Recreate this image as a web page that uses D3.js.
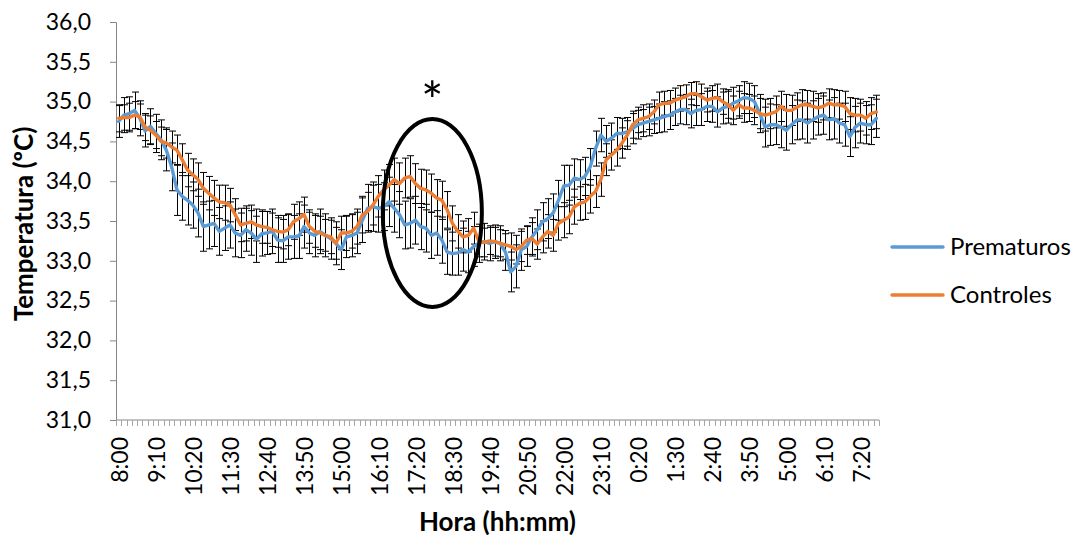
<!DOCTYPE html>
<html>
<head>
<meta charset="utf-8">
<script src="https://cdn.jsdelivr.net/npm/d3@7"></script>
<style>
  html, body { margin: 0; padding: 0; background: #fff; }
  svg { display: block; }
  text { font-family: Lato, "Open Sans", sans-serif; fill: #000; }
</style>
</head>
<body>
<svg id="chart" width="1084" height="538"></svg>
<script>
// ---------- DATA ----------
const tickLabels = ["8:00","9:10","10:20","11:30","12:40","13:50","15:00","16:10","17:20","18:30","19:40",
                    "20:50","22:00","23:10","0:20","1:30","2:40","3:50","5:00","6:10","7:20"];
const yTicks = [31.0,31.5,32.0,32.5,33.0,33.5,34.0,34.5,35.0,35.5,36.0];
const seriesNames = ["Prematuros","Controles"];

const prematuros = [
  34.75,34.83,34.85,34.89,34.79,34.63,34.69,34.60,34.52,34.39,
  34.18,33.89,33.81,33.76,33.70,33.60,33.43,33.45,33.47,33.37,
  33.41,33.45,33.35,33.32,33.39,33.35,33.27,33.34,33.35,33.37,
  33.26,33.25,33.30,33.30,33.31,33.43,33.35,33.32,33.37,33.32,
  33.28,33.22,33.14,33.30,33.32,33.35,33.51,33.66,33.68,33.66,
  33.68,33.74,33.66,33.58,33.45,33.47,33.51,33.43,33.41,33.32,
  33.35,33.26,33.11,33.09,33.10,33.14,33.11,33.18,33.22,33.24,
  33.22,33.24,33.22,33.11,32.86,32.93,33.14,33.18,33.30,33.39,
  33.49,33.53,33.60,33.76,33.94,33.95,34.04,34.02,34.06,34.18,
  34.41,34.58,34.50,34.54,34.60,34.60,34.62,34.66,34.71,34.73,
  34.75,34.77,34.79,34.81,34.83,34.87,34.90,34.90,34.85,34.89,
  34.90,34.94,34.94,34.87,34.92,34.94,34.98,35.01,35.05,35.04,
  35.00,34.85,34.68,34.71,34.71,34.68,34.64,34.71,34.77,34.77,
  34.73,34.77,34.81,34.83,34.77,34.79,34.73,34.71,34.56,34.68,
  34.73,34.71,34.71,34.79
];
const controles = [
  34.79,34.80,34.80,34.83,34.81,34.68,34.64,34.58,34.50,34.48,
  34.43,34.39,34.27,34.14,34.08,34.02,33.91,33.85,33.79,33.74,
  33.73,33.70,33.58,33.45,33.47,33.49,33.45,33.43,33.42,33.39,
  33.37,33.36,33.39,33.49,33.53,33.58,33.43,33.37,33.35,33.32,
  33.30,33.22,33.35,33.35,33.37,33.43,33.58,33.62,33.70,33.81,
  33.89,33.95,34.02,33.97,34.04,34.06,33.97,33.91,33.89,33.85,
  33.79,33.76,33.64,33.47,33.37,33.30,33.32,33.41,33.24,33.23,
  33.25,33.24,33.22,33.20,33.18,33.14,33.18,33.26,33.28,33.21,
  33.30,33.37,33.32,33.47,33.51,33.55,33.68,33.72,33.74,33.81,
  33.87,34.02,34.27,34.33,34.39,34.48,34.58,34.71,34.77,34.79,
  34.81,34.87,34.96,34.98,34.98,35.02,35.04,35.06,35.10,35.10,
  35.06,35.02,35.04,35.05,35.00,34.96,34.89,34.96,34.92,34.92,
  34.89,34.85,34.83,34.85,34.87,34.94,34.89,34.89,34.93,34.96,
  34.96,34.94,34.92,34.94,34.98,34.96,34.96,34.94,34.85,34.83,
  34.83,34.79,34.85,34.87
];
const prematurosErr = [
  0.20,0.22,0.21,0.23,0.22,0.20,0.22,0.24,0.25,0.26,
  0.30,0.32,0.30,0.31,0.29,0.30,0.31,0.30,0.29,0.30,
  0.28,0.29,0.30,0.28,0.27,0.28,0.29,0.28,0.27,0.28,
  0.28,0.27,0.28,0.27,0.28,0.27,0.26,0.27,0.28,0.27,
  0.26,0.27,0.25,0.26,0.27,0.26,0.28,0.30,0.31,0.30,
  0.30,0.31,0.30,0.29,0.30,0.31,0.30,0.29,0.30,0.29,
  0.28,0.29,0.28,0.27,0.28,0.27,0.26,0.25,0.24,0.23,
  0.22,0.21,0.22,0.23,0.25,0.27,0.26,0.25,0.24,0.25,
  0.24,0.25,0.24,0.25,0.26,0.25,0.24,0.25,0.24,0.23,
  0.22,0.21,0.20,0.19,0.20,0.19,0.18,0.19,0.18,0.17,
  0.18,0.17,0.18,0.19,0.18,0.17,0.18,0.19,0.18,0.19,
  0.20,0.19,0.20,0.19,0.20,0.21,0.20,0.19,0.20,0.19,
  0.20,0.24,0.25,0.26,0.25,0.26,0.25,0.24,0.25,0.24,
  0.25,0.24,0.23,0.24,0.25,0.26,0.25,0.27,0.25,0.26,
  0.25,0.24,0.25,0.24
];
const controlesErr = [
  0.17,0.16,0.18,0.17,0.16,0.17,0.18,0.17,0.18,0.19,
  0.20,0.19,0.20,0.21,0.20,0.21,0.20,0.21,0.22,0.21,
  0.22,0.21,0.20,0.21,0.22,0.21,0.20,0.21,0.20,0.21,
  0.20,0.21,0.20,0.22,0.21,0.22,0.21,0.20,0.21,0.20,
  0.21,0.20,0.21,0.22,0.21,0.22,0.23,0.24,0.25,0.26,
  0.25,0.26,0.27,0.26,0.25,0.26,0.25,0.24,0.25,0.24,
  0.23,0.24,0.23,0.22,0.21,0.20,0.21,0.20,0.19,0.18,
  0.17,0.18,0.17,0.18,0.17,0.18,0.19,0.18,0.20,0.19,
  0.20,0.21,0.20,0.21,0.22,0.21,0.22,0.21,0.22,0.21,
  0.20,0.21,0.20,0.19,0.20,0.19,0.18,0.17,0.16,0.17,
  0.16,0.15,0.16,0.15,0.16,0.15,0.16,0.15,0.14,0.15,
  0.16,0.15,0.16,0.17,0.16,0.17,0.18,0.17,0.18,0.17,
  0.18,0.19,0.20,0.19,0.20,0.19,0.20,0.19,0.18,0.19,
  0.18,0.19,0.18,0.17,0.18,0.19,0.18,0.19,0.20,0.21,
  0.20,0.21,0.20,0.21
];
// annotation (significance region): centre index, centre value, half-width in categories, half-height in ºC
const annotCenterIndex = 59.2;
const annotCenterValue = 33.60;
const annotHalfWidth = 9.35;
const annotHalfHeight = 1.18;

// ---------- CHART ----------
const colors = ["#5B9BD5", "#ED7D31"];
const W = 1084, H = 538;
const margin = { left: 116, right: W - 879, top: 22, bottom: H - 420 };
const svg = d3.select("#chart");
const x0 = margin.left, x1 = W - margin.right, y0 = H - margin.bottom, y1 = margin.top;

const n = prematuros.length;
const catLabel = i => { const t = (8 * 60 + i * 10) % 1440; return Math.floor(t / 60) + ":" + String(t % 60).padStart(2, "0"); };
const categories = d3.range(n).map(catLabel);

const x = d3.scaleBand().domain(categories).range([x0, x1]).paddingInner(0).paddingOuter(0);
const xc = c => x(c) + x.bandwidth() / 2;
const y = d3.scaleLinear().domain([31, 36]).range([y0, y1]);
const fmt = v => v.toFixed(1).replace(".", ",");

const tickFont = 23;

// y axis
const yAxis = d3.axisLeft(y).tickValues(yTicks).tickFormat(fmt).tickSize(6).tickPadding(19);
const gy = svg.append("g").attr("transform", `translate(${x0},0)`).call(yAxis);
gy.select(".domain").attr("stroke", "#868686").attr("stroke-width", 1);
gy.selectAll(".tick line").attr("stroke", "#868686");
gy.selectAll(".tick text").attr("font-size", tickFont).attr("font-family", "Lato").attr("fill", "#000");

// x axis: minor ticks at each category boundary
const gx = svg.append("g").attr("transform", `translate(0,${y0})`);
gx.append("line").attr("x1", x0).attr("x2", x1).attr("stroke", "#868686").attr("stroke-width", 1);
const boundaries = categories.map(c => x(c)).concat([x1]);
gx.selectAll("line.mt").data(boundaries).join("line").attr("class", "mt")
  .attr("x1", d => Math.round(d) + 0.5).attr("x2", d => Math.round(d) + 0.5)
  .attr("y1", 0).attr("y2", 6).attr("stroke", "#a6a6a6").attr("stroke-width", 1);
gx.selectAll("text.tl").data(tickLabels).join("text").attr("class", "tl")
  .attr("transform", d => `translate(${xc(d) + 1},${17}) rotate(-90)`)
  .attr("text-anchor", "end").attr("dy", "0.36em")
  .attr("font-size", tickFont).text(d => d);

// error bars
const series = [
  { name: seriesNames[0], vals: prematuros, err: prematurosErr, color: colors[0] },
  { name: seriesNames[1], vals: controles, err: controlesErr, color: colors[1] }
];
const capW = 3.5;
series.forEach(s => {
  const g = svg.append("g").attr("stroke", "#000").attr("stroke-width", 1).attr("fill", "none");
  s.vals.forEach((v, i) => {
    const cx = Math.round(xc(categories[i])) + 0.5;
    const top = y(v + s.err[i]), bot = y(v - s.err[i]);
    g.append("line").attr("x1", cx).attr("x2", cx).attr("y1", top).attr("y2", bot);
    g.append("line").attr("x1", cx - capW).attr("x2", cx + capW).attr("y1", top).attr("y2", top);
    g.append("line").attr("x1", cx - capW).attr("x2", cx + capW).attr("y1", bot).attr("y2", bot);
  });
});

// lines
const line = d3.line().x((d, i) => xc(categories[i])).y(d => y(d));
series.forEach(s => {
  svg.append("path").datum(s.vals).attr("d", line)
    .attr("fill", "none").attr("stroke", s.color).attr("stroke-width", 3.4)
    .attr("stroke-linejoin", "round").attr("stroke-linecap", "round");
});

// annotation ellipse + asterisk
const ecx = x0 + (annotCenterIndex + 0.5) * x.bandwidth();
const ecy = y(annotCenterValue);
svg.append("ellipse").attr("cx", ecx).attr("cy", ecy)
  .attr("rx", annotHalfWidth * x.bandwidth())
  .attr("ry", y(annotCenterValue - annotHalfHeight) - ecy)
  .attr("fill", "none").attr("stroke", "#000").attr("stroke-width", 4);
svg.append("text").attr("x", ecx).attr("y", 120).attr("text-anchor", "middle")
  .attr("font-size", 53).attr("font-family", "Open Sans").text("*");

// axis titles
svg.append("text").attr("transform", `translate(33,${(y0 + y1) / 2 + 3}) rotate(-90)`)
  .attr("text-anchor", "middle").attr("font-weight", "bold").attr("font-size", 26)
  .text("Temperatura (ºC)");
svg.append("text").attr("x", (x0 + x1) / 2).attr("y", 531)
  .attr("text-anchor", "middle").attr("font-weight", "bold").attr("font-size", 26)
  .text("Hora (hh:mm)");

// legend
const lg = svg.append("g");
series.forEach((s, k) => {
  const ly = 247 + k * 48;
  lg.append("line").attr("x1", 892).attr("x2", 943).attr("y1", ly).attr("y2", ly)
    .attr("stroke", s.color).attr("stroke-width", 3.4).attr("stroke-linecap", "round");
  lg.append("text").attr("x", 950).attr("y", ly).attr("dy", "0.35em")
    .attr("font-size", 24).text(s.name);
});
</script>
</body>
</html>
